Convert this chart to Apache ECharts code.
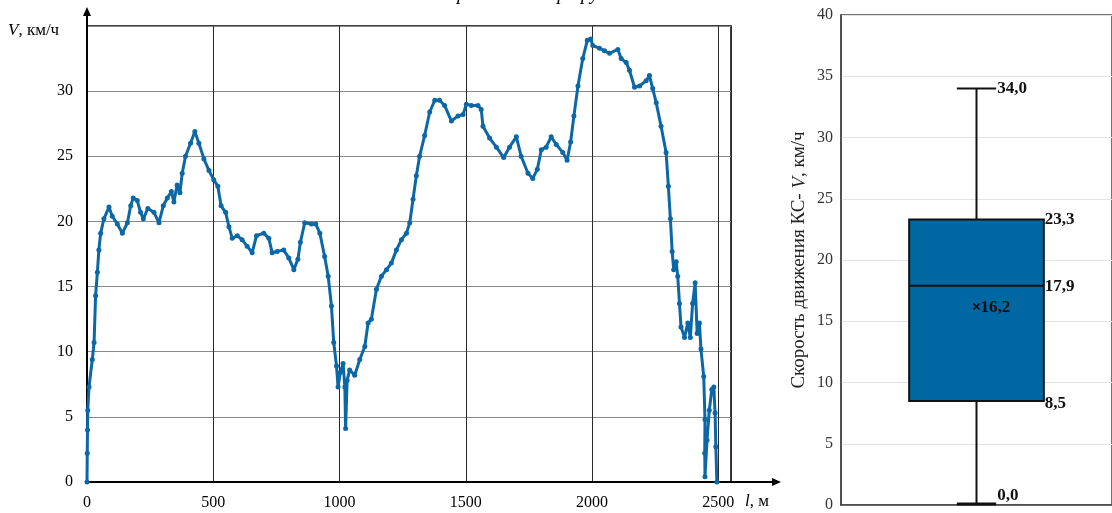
<!DOCTYPE html>
<html><head><meta charset="utf-8">
<script src="https://cdn.jsdelivr.net/npm/echarts@6/dist/echarts.min.js"></script>
<style>html,body{margin:0;padding:0;background:#fff}#c{width:1112px;height:513px}</style>
</head><body><div id="c"></div>
<script>
// ---- Data: distance along route (m) and speed (km/h) ----
const distance = [
  0,1,2,3,8,21,28,34,41,47,
  54,67,87,100,120,140,160,173,183,199,
  212,223,241,265,285,302,318,334,344,357,
  368,377,390,410,427,443,463,483,502,518,
  531,549,562,575,595,614,634,654,671,700,
  720,733,753,779,799,819,835,845,862,889,
  906,922,941,955,968,977,988,994,1003,1014,
  1021,1024,1030,1040,1060,1080,1100,1113,1126,1146,
  1166,1186,1205,1225,1245,1265,1278,1291,1304,1317,
  1337,1357,1377,1396,1416,1443,1469,1489,1502,1522,
  1548,1561,1568,1594,1621,1650,1673,1700,1719,1746,
  1765,1783,1799,1818,1838,1858,1884,1901,1915,1928,
  1944,1963,1981,1994,2003,2029,2049,2069,2102,2115,
  2135,2148,2168,2188,2214,2227,2240,2254,2273,2293,
  2302,2310,2317,2323,2333,2339,2346,2352,2366,2379,
  2389,2398,2408,2416,2425,2431,2442,2447,2446,2447,
  2455,2464,2474,2482,2487,2490,2494
];
const speed = [
  0,2.2,4.0,5.5,7.3,9.4,10.7,14.3,16.1,17.8,
  19.1,20.2,21.1,20.4,19.8,19.1,19.9,21.2,21.8,21.6,
  20.7,20.2,21.0,20.7,19.9,21.2,21.8,22.3,21.5,22.8,
  22.2,23.7,25.0,26.0,26.9,26.0,24.8,23.9,23.2,22.7,
  21.2,20.7,19.6,18.7,18.9,18.6,18.1,17.6,18.9,19.1,
  18.7,17.6,17.7,17.8,17.2,16.3,17.1,18.4,19.9,19.8,
  19.8,19.1,17.3,15.8,13.5,10.7,8.9,7.3,8.4,9.1,
  7.3,4.1,7.8,8.6,8.2,9.4,10.4,12.2,12.5,14.8,
  15.8,16.3,16.8,17.8,18.6,19.1,19.9,21.7,23.5,25.0,
  26.6,28.4,29.3,29.3,28.9,27.7,28.1,28.2,29.0,28.9,
  28.9,28.6,27.3,26.4,25.7,24.9,25.7,26.5,25.0,23.7,
  23.3,24.0,25.5,25.7,26.5,25.9,25.3,24.7,26.1,28.1,
  30.4,32.5,33.9,34.0,33.5,33.3,33.1,32.9,33.2,32.5,
  32.2,31.6,30.3,30.4,30.8,31.2,30.2,29.1,27.3,25.3,
  22.7,20.2,17.7,16.3,16.9,15.8,13.7,11.9,11.1,12.2,
  11.1,13.7,15.3,11.4,12.2,10.2,8.1,4.8,2.2,0.4,
  3.2,5.5,7.1,7.3,5.3,2.7,0
];
// ---- Box plot statistics ----
const boxCategories = [''];
const boxMin = 0.0, boxQ1 = 8.5, boxMedian = 17.9, boxQ3 = 23.3, boxMax = 34.0;
const boxMean = 16.2;

const FONT = '"Liberation Serif", "Times New Roman", serif';
const LINE_BLUE = '#0b67a6';
const BOX_BLUE = '#0067a3';
const fmt = v => v.toFixed(1).replace('.', ',');
const linePts = distance.map((d, i) => [d, speed[i]]);

const chart = echarts.init(document.getElementById('c'), null, {renderer: 'canvas'});

const option = {
  animation: false,
  grid: [
    {left: 87, top: 26, width: 644, height: 456, show: true, borderColor: '#000', borderWidth: 1.5},
    {left: 841, top: 15, width: 276, height: 493, show: true, borderColor: '#444', borderWidth: 1.5}
  ],
  xAxis: [
    {type: 'value', gridIndex: 0, min: 0, max: 2550, interval: 500,
     axisLine: {show: true, onZero: false, lineStyle: {color: '#000', width: 2}},
     axisTick: {show: false},
     axisLabel: {fontFamily: FONT, fontSize: 16, color: '#000', margin: 13,
                 formatter: v => (v > 2500 ? '' : String(v))},
     splitLine: {show: true, lineStyle: {color: '#2a2a2a', width: 1}}},
    {type: 'category', gridIndex: 1, data: boxCategories,
     axisLine: {show: true, lineStyle: {color: '#444', width: 1.5}},
     axisTick: {show: false}, axisLabel: {show: false}, splitLine: {show: false}}
  ],
  yAxis: [
    {type: 'value', gridIndex: 0, min: 0, max: 35, interval: 5,
     axisLine: {show: true, onZero: false, lineStyle: {color: '#000', width: 2}},
     axisTick: {show: false},
     axisLabel: {fontFamily: FONT, fontSize: 16, color: '#000', margin: 14,
                 formatter: v => (v >= 35 ? '' : String(v))},
     splitLine: {show: true, lineStyle: {color: '#8a8a8a', width: 1.2}}},
    {type: 'value', gridIndex: 1, min: 0, max: 40, interval: 5,
     axisLine: {show: true, lineStyle: {color: '#444', width: 1.5}},
     axisTick: {show: false},
     axisLabel: {fontFamily: FONT, fontSize: 16, color: '#333', margin: 8},
     splitLine: {show: true, lineStyle: {color: '#e3e3e3', width: 1}},
     name: '{n|Скорость движения КС- }{i|V}{n|, км/ч}',
     nameLocation: 'middle', nameGap: 32,
     nameTextStyle: {rich: {
       n: {fontFamily: FONT, fontSize: 19, color: '#222'},
       i: {fontFamily: FONT, fontSize: 19, color: '#222', fontStyle: 'italic'}
     }}}
  ],
  series: [
    {type: 'line', xAxisIndex: 0, yAxisIndex: 0, data: linePts,
     symbol: 'circle', symbolSize: 5, showSymbol: true,
     lineStyle: {color: LINE_BLUE, width: 3},
     itemStyle: {color: LINE_BLUE}, z: 5},
    {type: 'custom', xAxisIndex: 1, yAxisIndex: 1,
     data: [[0, boxMin, boxQ1, boxMedian, boxQ3, boxMax, boxMean]],
     renderItem: function (params, api) {
       const x = api.value(0);
       const P = v => api.coord([x, v]);
       const cx = P(0)[0];
       const yMin = P(api.value(1))[1], yQ1 = P(api.value(2))[1], yMed = P(api.value(3))[1];
       const yQ3 = P(api.value(4))[1], yMax = P(api.value(5))[1], yMean = P(api.value(6))[1];
       const band = api.size([1, 0])[0];
       const bw = band * 0.497, cw = band * 0.145;
       const ls = {stroke: '#111', lineWidth: 2};
       const tx = (text, x0, y0, align, va) => ({type: 'text', style: {
         text: text, x: x0, y: y0, align: align || 'left', verticalAlign: va || 'middle',
         fontFamily: FONT, fontSize: 17, fontWeight: 'bold', fill: '#111'}});
       const L = bw / 2;
       return {type: 'group', children: [
         {type: 'line', shape: {x1: cx, y1: yMax, x2: cx, y2: yQ3}, style: ls},
         {type: 'line', shape: {x1: cx, y1: yQ1, x2: cx, y2: yMin}, style: ls},
         {type: 'line', shape: {x1: cx - cw / 2, y1: yMax, x2: cx + cw / 2, y2: yMax}, style: ls},
         {type: 'line', shape: {x1: cx - cw / 2, y1: yMin - 1, x2: cx + cw / 2, y2: yMin - 1}, style: {stroke: '#111', lineWidth: 3}},
         {type: 'rect', shape: {x: cx - L, y: yQ3, width: bw, height: yQ1 - yQ3},
          style: {fill: BOX_BLUE, stroke: '#111', lineWidth: 2}},
         {type: 'line', shape: {x1: cx - L, y1: yMed, x2: cx + L, y2: yMed}, style: ls},
         {type: 'line', shape: {x1: cx - 3, y1: yMean - 3, x2: cx + 3, y2: yMean + 3}, style: {stroke: '#111', lineWidth: 1.6}},
         {type: 'line', shape: {x1: cx - 3, y1: yMean + 3, x2: cx + 3, y2: yMean - 3}, style: {stroke: '#111', lineWidth: 1.6}},
         tx(fmt(api.value(6)), cx + 4, yMean + 1),
         tx(fmt(api.value(5)), cx + cw / 2 + 1, yMax),
         tx(fmt(api.value(4)), cx + L + 1, yQ3),
         tx(fmt(api.value(3)), cx + L + 1, yMed + 1),
         tx(fmt(api.value(2)), cx + L + 1, yQ1 + 3),
         tx(fmt(api.value(1)), cx + cw / 2 + 1, yMin - 1, 'left', 'bottom')
       ]};
     }}
  ]
};
chart.setOption(option);

// Decorations: axis arrows and axis captions, positioned from the axis scales
const o = chart.convertToPixel({gridIndex: 0}, [0, 0]);
const xr = chart.convertToPixel({gridIndex: 0}, [2550, 35]);
const arrowX = xr[0] + 48, arrowY = xr[1] - 17;
chart.setOption({graphic: [
  {type: 'line', shape: {x1: xr[0], y1: o[1], x2: arrowX, y2: o[1]}, style: {stroke: '#000', lineWidth: 2}},
  {type: 'polygon', shape: {points: [[arrowX + 2, o[1]], [arrowX - 7, o[1] - 4], [arrowX - 7, o[1] + 4]]}, style: {fill: '#000'}},
  {type: 'line', shape: {x1: o[0], y1: xr[1], x2: o[0], y2: arrowY}, style: {stroke: '#000', lineWidth: 2}},
  {type: 'polygon', shape: {points: [[o[0], arrowY - 2], [o[0] - 4, arrowY + 7], [o[0] + 4, arrowY + 7]]}, style: {fill: '#000'}},
  {type: 'text', left: 8, top: 22, style: {
    text: '{i|V}{n|, км/ч}',
    rich: {i: {fontFamily: FONT, fontSize: 17, fontStyle: 'italic', fill: '#000'},
           n: {fontFamily: FONT, fontSize: 17, fill: '#000'}}}},
  {type: 'text', x: xr[0] + 14, y: o[1] + 20, style: {
    text: '{i|l}{n|, м}', verticalAlign: 'middle',
    rich: {i: {fontFamily: FONT, fontSize: 17, fontStyle: 'italic', fill: '#000'},
           n: {fontFamily: FONT, fontSize: 17, fill: '#000'}}}},
  {type: 'text', x: 457, y: -15, style: {
    text: 'рейс 1 на маршруте №1', fontFamily: FONT, fontSize: 19, fontStyle: 'italic', fill: '#000'}}
]});
</script>
</body></html>
